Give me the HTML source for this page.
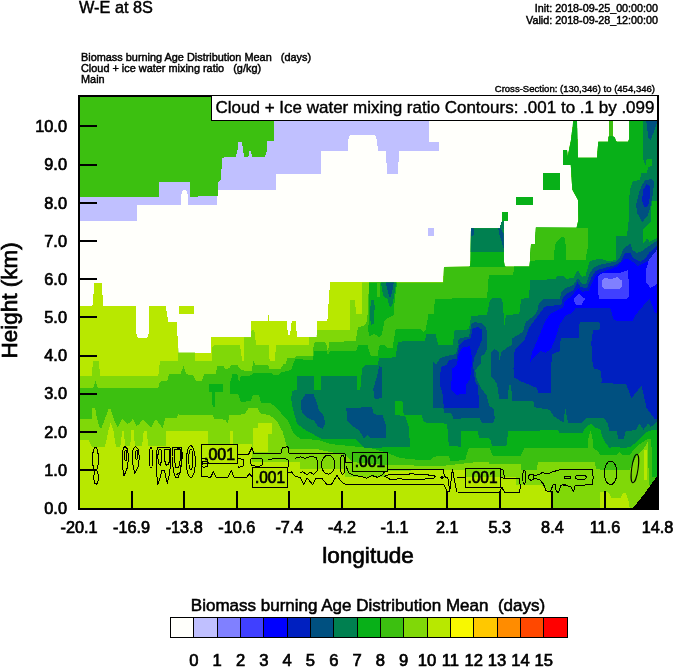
<!DOCTYPE html>
<html lang="en">
<head>
<meta charset="utf-8">
<title>W-E at 8S</title>
<style>
html,body{margin:0;padding:0;background:#fff;}
body{width:674px;height:667px;overflow:hidden;position:relative;font-family:"Liberation Sans",sans-serif;color:#000;}
svg{position:absolute;left:0;top:0;display:block;}
text{font-family:"Liberation Sans",sans-serif;fill:#000;}
.fill path,.fill rect{shape-rendering:crispEdges;}
.t16{font-size:16.6px;stroke:#000;stroke-width:0.7px;}
.t10{font-size:10.75px;stroke:#000;stroke-width:0.45px;}
</style>
</head>
<body>
<svg width="674" height="667" viewBox="0 0 674 667">
<rect x="0" y="0" width="674" height="667" fill="#fff"/>
<defs><clipPath id="plot"><rect x="79" y="96" width="579" height="413"/></clipPath></defs>
<g class="fill" clip-path="url(#plot)">

<clipPath id="env"><path d="M79.0 306.1 L92.4 306.1 L94.5 283.2 L101.5 283.2 L103.5 306.1 L136.0 306.1 L136.0 333.0 L138.0 337.7 L147.0 337.7 L149.2 333.0 L149.2 306.1 L165.8 306.1 L168.3 322.0 L176.7 322.0 L178.5 352.5 L211.0 352.5 L211.0 337.2 L251.0 337.2 L251.0 321.0 L267.5 321.0 L268.3 314.0 L269.5 321.0 L286.6 321.0 L288.0 335.0 L290.0 335.0 L291.7 321.0 L295.6 321.0 L297.0 337.0 L316.7 337.0 L316.7 321.0 L327.4 321.0 L330.0 282.4 L443.2 282.4 L444.0 267.0 L470.0 266.6 L470.5 262.0 L471.0 228.2 L503.6 228.2 L504.0 262.0 L504.8 266.6 L529.4 266.6 L530.0 261.0 L531.0 244.4 L535.0 244.4 L535.9 227.6 L576.6 227.8 L578.4 220.0 L578.0 200.0 L572.3 189.6 L570.8 165.0 L563.0 165.0 L563.0 150.0 L567.0 150.0 L567.7 156.5 L570.8 141.0 L573.3 120.3 L577.0 120.3 L578.0 157.7 L597.0 157.7 L598.3 141.7 L608.2 141.7 L608.5 137.0 L609.1 136.0 L609.1 120.3 L612.5 120.3 L612.5 136.0 L614.8 137.5 L616.0 141.0 L617.0 141.7 L628.0 141.7 L629.2 139.0 L629.2 120.3 L658.0 120.3 L658.0 509.0 L79.0 509.0Z"/></clipPath>
<g id="bg0">
<path d="M79.0 96.0 L658.0 96.0 L658.0 509.0 L79.0 509.0Z" fill="#fffffb"/>
</g>
<g id="lav">
<path d="M79.0 97.0 L429.2 97.0 L429.2 141.7 L438.9 141.7 L438.9 150.8 L399.0 150.8 L398.0 173.8 L387.0 173.8 L386.0 150.8 L378.0 150.8 L377.0 140.0 L375.0 134.8 L350.0 134.8 L348.0 140.0 L347.6 150.8 L321.5 150.8 L321.0 173.8 L276.5 173.8 L276.0 189.6 L217.0 189.6 L216.8 205.0 L188.0 205.0 L188.0 195.0 L186.0 189.6 L183.0 189.6 L181.0 195.0 L181.0 205.0 L137.0 205.0 L137.0 220.7 L79.0 220.7Z" fill="#c0c0ff"/>
<path d="M428.0 227.8 L434.3 227.8 L434.3 236.0 L428.0 236.0Z" fill="#c0c0ff"/>
</g>
<g id="g9top">
<path d="M79.0 97.0 L273.9 97.0 L273.9 141.0 L267.5 141.0 L267.0 150.0 L265.0 156.5 L252.0 156.5 L251.0 151.0 L249.5 151.0 L248.5 156.5 L244.0 156.5 L243.0 150.0 L242.0 141.7 L238.5 141.7 L237.5 150.0 L235.7 156.5 L222.4 157.7 L221.0 175.0 L220.4 180.7 L218.0 182.0 L217.8 196.0 L190.0 196.7 L190.0 182.0 L158.9 182.0 L158.9 196.7 L79.0 196.7Z" fill="#3cc010"/>
</g>
<g id="le11">
<path d="M79.0 306.1 L92.4 306.1 L94.5 283.2 L101.5 283.2 L103.5 306.1 L136.0 306.1 L136.0 333.0 L138.0 337.7 L147.0 337.7 L149.2 333.0 L149.2 306.1 L165.8 306.1 L168.3 322.0 L176.7 322.0 L178.5 352.5 L211.0 352.5 L211.0 337.2 L251.0 337.2 L251.0 321.0 L267.5 321.0 L268.3 314.0 L269.5 321.0 L286.6 321.0 L288.0 335.0 L290.0 335.0 L291.7 321.0 L295.6 321.0 L297.0 337.0 L316.7 337.0 L316.7 321.0 L327.4 321.0 L330.0 282.4 L443.2 282.4 L444.0 267.0 L470.0 266.6 L470.5 262.0 L471.0 228.2 L503.6 228.2 L504.0 262.0 L504.8 266.6 L529.4 266.6 L530.0 261.0 L531.0 244.4 L535.0 244.4 L535.9 227.6 L576.6 227.8 L578.4 220.0 L578.0 200.0 L572.3 189.6 L570.8 165.0 L563.0 165.0 L563.0 150.0 L567.0 150.0 L567.7 156.5 L570.8 141.0 L573.3 120.3 L577.0 120.3 L578.0 157.7 L597.0 157.7 L598.3 141.7 L608.2 141.7 L608.5 137.0 L609.1 136.0 L609.1 120.3 L612.5 120.3 L612.5 136.0 L614.8 137.5 L616.0 141.0 L617.0 141.7 L628.0 141.7 L629.2 139.0 L629.2 120.3 L658.0 120.3 L658.0 509.0 L79.0 509.0Z" fill="#b8e800"/>
<path d="M179.0 306.1 L193.8 306.1 L193.8 313.8 L179.0 313.8Z" fill="#b8e800"/>
</g>
<g id="sq8">
<path d="M542.7 173.0 L560.0 173.0 L560.0 190.0 L542.7 190.0Z" fill="#08b018"/>
<path d="M516.0 197.2 L532.8 197.2 L532.8 204.9 L516.0 204.9Z" fill="#08b018"/>
</g>
<g clip-path="url(#env)">
<g id="le10">
<path d="M77.2 376.3 L91.6 376.3 L93.0 361.3 L98.8 361.3 L100.2 376.3 L158.2 376.3 L160.0 361.3 L177.9 361.3 L178.0 348.0 L194.9 348.0 L194.9 361.0 L212.0 361.0 L212.0 348.4 L213.8 345.1 L239.9 345.1 L242.2 361.0 L244.0 361.0 L244.0 335.0 L250.9 335.0 L251.6 330.4 L254.3 330.4 L256.1 345.1 L268.7 345.1 L269.6 361.0 L275.0 361.0 L275.9 345.1 L305.0 345.1 L309.0 345.2 L309.0 335.0 L317.1 335.0 L317.1 330.3 L349.5 330.3 L350.4 299.7 L354.9 299.7 L356.1 314.1 L362.1 314.1 L362.1 277.2 L700.0 60.0 L700.0 520.0 L553.5 520.0 L553.0 500.0 L550.0 492.0 L543.5 487.0 L541.0 484.6 L516.4 484.6 L516.4 477.0 L465.0 477.0 L465.0 469.5 L384.5 471.0 L384.5 477.0 L345.0 477.0 L345.0 469.0 L300.0 469.0 L300.0 462.0 L252.0 462.0 L252.0 444.0 L208.0 444.0 L208.0 431.4 L180.0 431.4 L166.3 431.2 L166.3 445.6 L148.3 446.5 L147.4 438.4 L146.5 431.2 L143.8 431.2 L142.9 438.4 L142.0 445.6 L134.8 445.6 L133.9 430.3 L131.2 430.3 L130.3 445.6 L124.9 445.6 L124.0 431.2 L122.2 431.2 L120.4 446.5 L115.9 446.5 L113.2 429.4 L110.5 423.1 L108.7 429.4 L106.0 442.0 L105.1 446.5 L91.6 446.5 L88.9 440.2 L77.2 440.2Z" fill="#80d808"/>
</g>
<g id="le11b">
<path d="M257.5 422.7 L271.7 422.7 L271.7 434.0 L268.0 434.0 L268.0 452.0 L253.0 452.0 L253.0 428.0 L257.5 428.0Z" fill="#b8e800"/>
<path d="M229.5 431.4 L233.1 431.4 L233.1 444.0 L229.5 444.0Z" fill="#b8e800"/>
<path d="M600.0 510.0 L600.0 492.0 L605.2 491.7 L609.0 492.7 L611.2 498.0 L621.0 498.0 L622.5 493.5 L625.8 493.2 L628.5 501.0 L630.0 510.0Z" fill="#b8e800"/>
<path d="M644.2 450.0 L646.8 450.0 L647.2 480.0 L644.2 480.0Z" fill="#b8e800"/>
</g>
<g id="le9">
<path d="M77.2 387.9 L93.4 387.9 L95.5 381.1 L97.9 387.9 L158.2 387.9 L160.0 381.6 L167.2 380.7 L169.0 374.5 L180.6 373.6 L183.7 366.0 L186.0 373.6 L190.0 375.4 L186.8 375.4 L193.1 375.4 L195.8 380.7 L202.1 380.7 L203.9 374.5 L215.6 373.6 L217.4 366.4 L223.7 366.4 L225.5 369.1 L229.1 368.2 L231.8 364.9 L237.2 364.9 L239.9 369.1 L245.3 370.9 L251.6 370.9 L253.4 361.0 L255.2 364.6 L267.8 364.6 L269.6 369.1 L280.4 369.1 L283.1 364.6 L285.7 363.7 L287.5 358.3 L294.7 358.3 L296.5 355.9 L305.0 355.9 L300.0 356.0 L312.6 356.0 L314.0 342.9 L316.2 342.0 L325.2 342.0 L327.0 345.6 L327.9 354.2 L329.1 342.0 L355.8 341.1 L357.9 327.2 L364.8 325.4 L366.9 321.3 L368.4 306.0 L368.7 277.2 L700.0 40.0 L660.0 484.5 L648.7 484.5 L648.3 450.0 L648.0 441.0 L643.5 449.2 L637.5 454.5 L632.2 465.0 L630.0 469.5 L600.0 469.5 L595.9 469.3 L595.0 462.1 L550.0 462.1 L538.0 462.4 L536.7 469.8 L520.5 469.8 L520.5 464.4 L489.4 464.4 L489.4 461.7 L480.0 461.7 L445.0 465.6 L420.0 465.6 L384.0 465.0 L352.0 462.0 L345.0 455.0 L318.0 449.4 L300.0 449.4 L287.9 449.4 L286.1 444.0 L282.5 431.4 L277.2 421.5 L270.0 415.2 L260.1 413.4 L257.4 408.0 L248.4 408.0 L244.8 414.3 L229.5 415.2 L227.7 423.3 L225.0 419.7 L214.2 418.8 L212.4 415.2 L180.0 415.2 L177.9 414.1 L177.0 417.7 L165.4 417.7 L162.7 428.5 L158.2 422.2 L155.5 419.5 L151.0 427.6 L145.6 422.2 L142.9 419.5 L139.3 424.0 L136.6 425.8 L134.8 422.2 L133.0 418.6 L130.3 422.2 L127.6 424.0 L124.9 421.3 L122.2 418.6 L119.5 424.0 L117.7 427.6 L115.0 422.2 L110.5 408.7 L108.7 408.7 L105.1 418.6 L101.5 427.6 L99.7 427.6 L97.0 418.6 L95.2 407.8 L92.5 407.8 L91.6 418.6 L77.2 418.6Z" fill="#3cc010"/>
</g>
<g id="le8">
<path d="M230.0 394.0 L230.0 382.6 L232.7 373.6 L237.2 373.6 L239.0 382.6 L240.8 376.3 L251.6 375.4 L253.4 372.7 L271.4 372.7 L273.2 375.4 L278.6 375.4 L280.4 372.7 L291.1 370.0 L292.9 364.6 L295.6 359.2 L305.0 359.2 L300.0 360.0 L312.6 360.0 L314.4 351.3 L327.0 351.3 L327.9 355.5 L329.7 351.3 L355.8 351.3 L358.5 345.2 L367.5 345.2 L370.2 354.6 L372.0 356.4 L377.4 356.4 L379.2 345.6 L384.6 345.2 L387.3 347.7 L392.7 347.7 L395.4 330.3 L397.2 329.0 L420.0 329.0 L421.3 329.4 L423.1 332.1 L425.8 329.4 L428.5 314.1 L433.9 314.1 L434.8 298.8 L487.0 297.9 L488.8 275.4 L513.1 274.5 L514.0 270.0 L514.0 90.0 L700.0 90.0 L660.0 477.0 L651.7 477.0 L651.7 450.0 L651.0 439.5 L648.0 438.7 L642.0 442.5 L636.0 447.0 L630.0 454.5 L622.5 455.2 L619.5 452.2 L616.5 455.2 L600.0 454.5 L598.6 452.2 L593.2 447.7 L592.3 436.0 L590.5 430.6 L588.7 436.0 L587.8 447.7 L550.0 447.7 L524.5 447.5 L520.5 455.6 L492.8 455.6 L489.4 447.5 L468.6 448.5 L465.0 460.2 L450.6 461.0 L448.8 455.7 L434.4 456.6 L430.8 460.2 L420.0 460.0 L400.0 458.0 L385.0 452.0 L370.0 448.0 L350.0 446.0 L330.0 444.0 L318.0 440.0 L300.0 438.6 L294.0 434.0 L288.0 421.0 L281.0 413.0 L277.0 408.0 L270.0 402.6 L261.0 402.6 L259.0 395.0 L253.0 395.0 L251.0 401.0 L241.0 402.0 L238.0 394.0Z" fill="#08b018"/>
<path d="M368.9 277.2 L368.9 306.0 L368.4 331.2 L369.3 336.6 L374.7 333.9 L379.2 337.5 L381.9 334.8 L384.6 320.4 L388.2 317.7 L393.6 315.0 L395.0 297.0 L398.1 277.2Z" fill="#08b018"/>
<path d="M209.0 384.4 L222.8 384.4 L222.8 391.6 L215.0 391.6 L215.0 407.2 L212.6 407.2 L212.0 391.6 L209.0 391.6Z" fill="#08b018"/>
<path d="M469.0 220.0 L506.0 220.0 L506.0 267.0 L469.0 267.0Z" fill="#08b018"/>
</g>
<g id="le9p">
<path d="M535.9 227.6 L588.1 227.6 L588.1 245.5 L585.6 259.5 L566.4 259.5 L565.2 237.8 L561.3 236.6 L555.0 244.2 L553.7 259.5 L529.5 260.8 L530.8 244.2 L534.6 242.9Z" fill="#3cc010"/>
<path d="M609.1 118.0 L612.5 118.0 L612.5 136.2 L609.1 136.2Z" fill="#3cc010"/>
<path d="M376.5 277.2 L380.1 277.2 L379.5 297.0 L377.4 297.0Z" fill="#3cc010"/>
</g>
<g id="le7">
<path d="M291.1 400.0 L292.0 391.5 L296.5 389.7 L296.5 376.3 L305.0 376.3 L300.0 376.1 L313.5 376.1 L314.4 390.0 L320.7 390.0 L320.7 376.1 L356.7 376.1 L357.2 390.0 L360.3 390.0 L362.1 368.1 L364.8 365.4 L377.4 365.4 L379.2 358.2 L395.4 357.3 L398.1 341.6 L420.0 341.1 L424.9 341.1 L426.2 333.9 L435.7 333.9 L437.5 342.0 L438.4 344.7 L452.8 344.7 L454.6 330.3 L469.0 329.4 L471.1 315.9 L487.0 315.0 L489.7 300.6 L492.4 298.4 L501.4 298.4 L503.2 304.2 L504.1 327.6 L505.9 315.0 L519.3 314.1 L521.1 298.8 L529.2 297.9 L530.1 280.8 L535.0 279.9 L529.2 297.0 L530.0 280.5 L555.5 279.0 L557.0 276.0 L563.0 276.0 L566.0 279.0 L573.5 277.5 L576.5 271.5 L578.0 270.0 L581.7 276.7 L585.5 276.0 L588.5 265.5 L590.0 261.0 L600.0 258.7 L609.0 261.5 L615.7 260.0 L616.5 236.0 L627.0 236.0 L628.5 222.5 L629.2 197.0 L630.4 188.4 L632.8 181.2 L640.0 180.0 L641.2 173.4 L646.6 172.8 L648.4 166.8 L645.4 165.6 L643.0 158.4 L643.0 116.4 L700.0 100.0 L660.0 429.0 L651.0 430.5 L646.5 432.0 L642.0 436.5 L636.0 442.5 L630.0 447.0 L622.0 448.6 L618.4 446.8 L609.4 447.7 L605.8 443.2 L602.2 436.0 L600.4 429.7 L594.1 427.0 L591.4 423.4 L588.7 425.2 L584.2 428.8 L582.4 433.3 L559.9 433.3 L558.1 429.7 L550.0 429.7 L540.0 430.5 L526.1 430.5 L508.2 431.4 L506.4 445.8 L492.0 445.8 L490.2 438.6 L479.4 437.7 L477.6 431.4 L461.4 431.4 L460.5 446.7 L448.8 445.8 L447.0 422.4 L447.0 423.7 L424.1 422.4 L421.6 414.8 L403.7 414.8 L402.4 400.8 L394.8 400.8 L394.8 414.8 L405.0 416.1 L408.8 426.3 L410.1 446.7 L365.0 448.0 L355.0 439.0 L322.0 439.0 L307.0 431.0 L297.0 424.0 L292.0 405.0 L290.5 393.0 L291.0 380.0Z" fill="#008050"/>
<path d="M371.1 299.7 L373.8 299.7 L374.7 306.0 L373.8 324.0 L371.1 324.9 L369.8 316.8 L370.5 306.0Z" fill="#008050"/>
<path d="M380.6 277.2 L397.2 277.2 L394.5 293.4 L392.7 304.2 L390.0 307.8 L387.3 298.8 L383.7 297.0 L381.9 289.8Z" fill="#008050"/>
<path d="M470.0 220.0 L505.0 220.0 L505.0 251.6 L470.0 251.6Z" fill="#008050"/>
</g>
<g id="le8p">
<path d="M651.7 200.7 L659.2 200.7 L659.2 236.7 L649.5 242.0 L647.2 238.2 L643.5 243.5 L642.7 230.0 L645.0 227.0 L651.0 221.7Z" fill="#08b018"/>
<path d="M645.4 165.6 L646.6 159.6 L652.0 159.0 L652.0 166.2 L648.4 166.8Z" fill="#08b018"/>
</g>
</g>
<g id="stem7">
<path d="M500.0 228.8 L500.6 224.0 L502.4 221.0 L504.4 221.0 L503.6 224.0 L503.6 228.8Z" fill="#008050"/>
</g>
<g id="blob8">
<path d="M502.1 212.0 L507.8 212.0 L507.8 221.0 L502.1 221.0Z" fill="#08b018"/>
</g>
<g clip-path="url(#env)">
<g id="le6">
<path d="M432.5 407.5 L432.5 361.0 L436.2 364.7 L440.0 358.0 L447.5 355.7 L455.7 354.2 L458.7 344.5 L457.3 342.0 L460.0 338.4 L469.0 336.6 L471.7 323.1 L475.3 322.2 L481.6 323.1 L485.2 326.7 L487.0 331.2 L487.0 338.4 L487.2 349.0 L484.2 354.2 L481.2 356.5 L480.5 364.0 L475.2 370.0 L476.7 379.0 L482.0 389.5 L486.5 395.5 L489.5 406.0 L494.0 409.0 L494.7 418.0 L493.2 422.5 L482.0 422.5 L479.7 418.0 L453.5 418.7 L451.2 413.5 L444.5 412.7 L443.0 407.5Z" fill="#005080"/>
<path d="M491.0 376.0 L491.0 352.0 L494.7 349.0 L498.5 352.0 L499.2 361.0 L501.5 352.0 L507.5 347.5 L512.0 345.2 L512.2 338.4 L522.9 332.1 L525.6 322.2 L535.0 315.0 L537.5 310.0 L539.0 303.0 L543.5 298.5 L560.0 298.5 L561.5 291.7 L566.0 288.0 L573.5 285.0 L578.0 278.2 L581.7 283.5 L586.2 284.2 L590.0 273.0 L593.7 267.7 L600.0 264.7 L609.0 263.0 L615.7 261.5 L619.5 258.5 L624.0 248.0 L630.7 243.5 L632.2 249.5 L636.7 253.2 L642.0 251.0 L648.0 246.5 L657.0 240.5 L700.0 235.0 L700.0 421.0 L657.4 421.6 L650.7 427.0 L648.1 423.4 L643.6 429.7 L639.1 423.4 L636.4 429.7 L625.6 431.5 L623.8 438.7 L618.4 438.7 L616.6 430.6 L609.4 430.6 L607.6 423.4 L604.0 418.0 L586.0 418.0 L582.4 422.5 L568.0 422.5 L565.3 408.1 L563.5 422.5 L553.6 416.2 L550.0 409.9 L534.6 407.2 L533.3 400.8 L511.6 400.8 L512.0 399.2 L511.2 385.0 L509.0 385.0 L507.5 399.2 L499.2 398.5 L497.0 383.5Z" fill="#005080"/>
<path d="M300.9 400.8 L305.4 394.5 L313.5 394.0 L316.2 400.8 L318.9 409.8 L323.4 415.2 L325.2 423.3 L322.5 428.7 L318.0 426.9 L314.4 420.6 L307.2 417.9 L302.7 413.4 L300.9 408.0Z" fill="#005080"/>
<path d="M346.4 408.0 L372.0 407.1 L373.8 414.3 L382.8 415.2 L385.5 424.2 L385.5 437.7 L370.2 438.2 L367.5 435.0 L363.9 438.6 L359.4 430.5 L352.2 426.0 L346.8 419.7Z" fill="#005080"/>
<path d="M372.9 390.0 L376.5 377.9 L379.2 366.3 L381.9 367.2 L381.9 398.1 L374.7 399.0 L373.4 390.0Z" fill="#005080"/>
<path d="M384.6 277.2 L394.5 277.2 L392.7 289.8 L390.0 298.8 L388.2 293.4Z" fill="#005080"/>
<path d="M471.0 227.6 L474.0 227.6 L474.0 234.8 L472.4 236.6 L471.0 236.0Z" fill="#005080"/>
<path d="M498.2 227.6 L500.3 227.6 L503.6 233.6 L503.6 248.0 L502.4 244.4 L501.2 239.6 L499.4 234.8Z" fill="#005080"/>
<path d="M646.0 118.8 L658.0 118.8 L656.8 123.6 L653.8 132.0 L650.8 139.8 L648.4 138.0 L647.4 129.6Z" fill="#005080"/>
<path d="M645.0 180.5 L651.0 179.0 L654.0 181.2 L653.2 192.5 L650.2 207.5 L648.0 215.0 L642.0 222.5 L637.5 213.5 L636.0 204.5 L639.0 192.5 L642.0 185.0Z" fill="#005080"/>
</g>
<g id="le5">
<path d="M440.0 385.0 L440.7 367.0 L446.7 364.7 L449.0 360.2 L456.5 358.7 L458.7 349.0 L459.1 345.6 L464.5 340.2 L470.8 338.4 L472.6 328.5 L478.0 326.7 L481.6 329.4 L482.5 338.4 L477.5 350.5 L474.5 356.5 L473.0 365.5 L475.2 382.0 L477.5 385.0 L479.0 400.0 L479.0 407.5 L443.7 407.5 L443.0 395.5Z" fill="#0020c0"/>
<path d="M514.2 379.0 L513.5 355.0 L514.2 352.5 L515.5 348.7 L524.4 339.8 L529.5 327.0 L537.1 316.9 L544.8 306.7 L549.5 306.0 L561.5 304.5 L563.0 297.0 L567.5 293.2 L573.5 290.2 L577.2 282.0 L581.0 287.2 L587.0 288.0 L591.5 277.5 L595.2 271.5 L600.0 269.2 L615.0 265.2 L621.0 261.5 L624.7 253.2 L630.0 252.5 L633.7 258.5 L640.5 261.5 L645.0 258.5 L649.5 252.5 L657.0 245.7 L700.0 243.0 L700.0 410.0 L656.9 418.6 L654.4 418.6 L646.7 408.4 L641.6 385.5 L631.4 398.2 L626.3 384.2 L600.9 382.9 L602.1 381.5 L600.3 369.9 L594.0 369.0 L592.2 360.0 L591.3 342.0 L593.1 330.3 L600.3 329.4 L599.4 322.2 L579.6 322.2 L578.7 337.5 L560.7 338.4 L559.8 351.0 L551.7 354.6 L550.8 390.0 L551.2 393.1 L538.4 393.1 L537.1 388.0 L521.8 381.7 L514.2 377.8 L512.9 360.0Z" fill="#0020c0"/>
<path d="M646.5 184.2 L650.2 186.5 L650.2 195.5 L648.0 206.0 L644.2 207.5 L642.0 200.0 L643.5 189.5Z" fill="#0020c0"/>
</g>
<g id="le4">
<path d="M451.2 389.5 L452.0 368.5 L456.5 365.5 L458.7 355.0 L462.5 347.5 L470.0 346.0 L471.5 355.0 L471.5 367.0 L470.0 379.0 L466.2 385.0 L465.5 394.0 L456.5 394.7Z" fill="#0000ff"/>
<path d="M529.5 362.7 L532.0 352.5 L539.7 334.7 L544.8 321.9 L549.9 314.3 L562.6 307.9 L563.0 307.5 L564.5 301.5 L572.0 295.5 L575.0 291.7 L578.0 288.0 L581.7 291.7 L588.5 291.0 L593.0 280.5 L596.0 275.2 L600.0 273.0 L618.0 266.0 L624.7 258.5 L630.7 260.0 L637.5 266.0 L649.5 260.0 L657.0 251.0 L700.0 250.0 L700.0 300.0 L656.9 313.2 L655.1 313.2 L649.7 298.8 L646.1 302.4 L635.4 315.0 L632.7 321.3 L613.8 320.4 L610.2 307.8 L576.0 307.8 L571.5 313.2 L567.0 315.0 L566.1 315.0 L559.8 324.0 L556.2 336.6 L550.8 349.2 L545.4 352.8 L540.0 351.0Z" fill="#0000ff"/>
</g>
<g id="le3">
<path d="M597.6 277.2 L601.2 273.6 L612.0 272.7 L621.0 272.7 L628.2 270.0 L629.1 297.0 L626.4 298.8 L599.4 298.8 L597.6 291.6Z" fill="#4040ff"/>
<path d="M573.3 298.8 L578.7 293.4 L585.0 298.8 L581.4 305.1 L576.0 305.1Z" fill="#4040ff"/>
<path d="M648.7 260.0 L658.5 248.0 L662.3 270.0 L662.3 280.8 L650.6 288.0 L646.1 282.6 L646.1 270.0Z" fill="#4040ff"/>
</g>
<g id="le2">
<path d="M602.1 280.8 L604.8 278.1 L611.1 279.0 L617.4 277.2 L621.9 280.8 L621.9 287.1 L619.2 288.9 L604.8 288.9 L602.1 286.2Z" fill="#8080ff"/>
</g>
</g>
</g>

<g fill="none" stroke="#000" stroke-width="1" stroke-linejoin="round" shape-rendering="crispEdges">
<ellipse cx="95.5" cy="459.1" rx="2.9" ry="11.7"/>
<ellipse cx="96.1" cy="477.4" rx="2.2" ry="6.8"/>
<path d="M125.2 446.5 L127.6 449.2 L128.5 458.2 L127.2 468.1 L124.0 476.1 L122.5 467.2 L122.2 454.6 L123.3 448.3Z"/>
<ellipse cx="125.6" cy="455.5" rx="1.3" ry="5.4"/>
<path d="M135.7 446.5 L138.4 449.2 L139.3 458.2 L138.0 467.2 L134.8 473.4 L133.0 465.4 L132.4 454.6 L133.3 448.3Z"/>
<ellipse cx="136.6" cy="454.6" rx="1.1" ry="4.5"/>
<ellipse cx="151.0" cy="457.8" rx="1.6" ry="10.3"/>
<path d="M157.3 447.4 L169.9 447.0 L170.7 456.4 L169.9 470.7 L168.6 477.9 L167.2 483.3 L164.5 470.7 L161.8 470.7 L160.0 477.9 L157.8 484.2 L156.4 470.7 L156.4 454.6Z"/>
<path d="M158.5 450.1 L160.9 449.2 L161.8 458.2 L160.5 465.4 L158.5 463.6 L157.8 456.4Z"/>
<path d="M164.5 449.2 L169.0 449.2 L169.9 458.2 L168.6 464.5 L166.3 465.4 L164.5 460.0Z"/>
<path d="M172.5 447.0 L181.5 447.0 L182.4 456.4 L180.6 470.7 L177.9 477.9 L175.2 477.0 L173.4 470.7 L172.0 456.4Z"/>
<path d="M174.3 449.2 L180.1 449.2 L180.6 458.2 L178.8 467.2 L176.1 468.1 L174.3 460.0Z"/>
<ellipse cx="190.8" cy="461.6" rx="4.5" ry="15.8"/>
<ellipse cx="190.8" cy="459.3" rx="2.0" ry="10.4"/>
<path d="M176.4 447.6 L180.9 449.4 L181.4 462.0 L180.0 472.8 L176.4 474.6"/>
<path d="M201.6 463.8 L201.6 476.4 L210.6 477.3 L213.3 471.9 L216.0 477.3 L227.7 477.3 L231.3 470.1 L234.0 477.3 L246.6 477.3 L249.3 473.7 L252.5 477.3"/>
<path d="M237.6 454.8 L248.4 454.8 L251.1 449.4 L252.0 447.6 L253.8 453.9 L280.7 453.9 L282.5 447.6 L287.9 446.7 L288.8 453.0 L300.0 453.0"/>
<path d="M237.6 458.4 L243.0 459.3 L243.9 465.6 L239.4 467.4 L237.6 466.5"/>
<path d="M251.1 458.4 L261.9 458.0 L262.8 464.7 L259.2 466.5 L252.0 465.6 L250.2 462.0Z"/>
<path d="M268.2 459.3 L280.7 458.4 L287.9 459.3 L288.8 465.6 L287.6 467.7"/>
<path d="M287.6 472.8 L291.5 471.9 L295.1 476.4 L300.0 477.3"/>
<path d="M201.6 459.3 L203.0 458.4 L207.0 459.3 L208.8 463.8"/>
<path d="M202.5 461.1 L207.0 461.1 L207.9 466.5 L203.4 467.4 L201.9 465.6Z"/>
<path d="M295.1 458.4 L300.0 456.9"/>
<path d="M300.0 456.6 L305.4 458.4 L310.8 456.2 L316.2 457.5 L318.0 463.8 L317.1 471.0 L313.5 474.6 L309.9 471.9 L307.2 474.6 L302.7 471.9 L300.0 472.8"/>
<ellipse cx="328.2" cy="464.7" rx="6.7" ry="9.4"/>
<ellipse cx="342.6" cy="464.7" rx="2.3" ry="9.4"/>
<path d="M300.0 453.9 L345.0 453.9 L345.0 462.0 L352.2 462.0"/>
<path d="M300.0 477.3 L303.6 484.5 L307.2 478.2 L312.6 484.5 L316.2 478.2 L321.6 478.2 L327.0 484.5 L331.5 484.5 L336.9 475.5 L341.4 481.8 L345.9 484.8 L443.9 484.8"/>
<path d="M345.9 465.6 L348.6 472.8 L354.0 475.5 L361.2 476.4 L366.6 478.2 L372.0 475.5 L377.4 477.3 L382.8 474.6 L384.6 471.3"/>
<path d="M387.6 469.2 L443.9 469.2"/>
<path d="M384.6 476.4 L390.0 474.2 L400.7 474.9 L411.5 473.8 L422.3 474.6 L433.1 475.3 L435.8 476.7 L433.1 478.5 L422.3 479.2 L411.5 479.6 L400.7 478.9 L390.0 479.2Z"/>
<path d="M443.4 469.2 L444.3 476.4 L447.9 478.2 L449.7 491.6 L452.4 469.2 L455.1 483.6 L456.9 492.0 L499.2 492.5 L501.9 487.2 L504.6 492.5 L519.0 492.5 L520.7 487.2 L519.0 478.2 L504.6 478.2 L502.8 469.2 L500.1 469.2"/>
<path d="M444.3 484.8 L447.0 491.6 L449.7 491.6"/>
<path d="M440.7 477.6 L441.9 476.4 L443.4 477.6 L441.9 478.9Z"/>
<path d="M456.9 477.6 L465.0 477.6"/>
<path d="M500.1 477.6 L504.6 478.2"/>
<ellipse cx="524.3" cy="477.2" rx="1.5" ry="7.0"/>
<ellipse cx="531.3" cy="477.2" rx="2.7" ry="3.0"/>
<path d="M534.0 475.9 L539.4 474.5 L542.1 472.5 L547.5 473.9 L552.9 471.8 L559.6 469.8 L566.4 469.4"/>
<path d="M534.0 478.6 L539.4 479.3 L543.4 484.0 L546.1 490.7 L550.2 492.1 L552.9 485.3 L554.9 484.0 L556.2 490.7 L558.3 492.7 L561.0 485.3 L566.4 484.0"/>
<path d="M560.8 469.3 L592.3 469.3 L593.2 477.4 L592.3 484.6 L575.2 485.5 L573.4 491.8 L570.7 486.4 L563.5 485.5"/>
<ellipse cx="567.5" cy="477.4" rx="3.2" ry="1.4"/>
<ellipse cx="580.9" cy="477.4" rx="5.4" ry="2.3"/>
<ellipse cx="610.6" cy="472.9" rx="6.3" ry="11.7"/>
<ellipse cx="634.9" cy="468.4" rx="3.2" ry="14.4" transform="rotate(8 634.9 468.4)"/>
</g>
<rect x="201.6" y="444.5" width="36.0" height="19.3" fill="none" stroke="#000" stroke-width="1" shape-rendering="crispEdges"/>
<text x="219.6" y="459.6" text-anchor="middle" style="font-size:16.5px;stroke:#000;stroke-width:0.7px" textLength="31.0" lengthAdjust="spacingAndGlyphs">.001</text>
<rect x="252.5" y="467.7" width="35.1" height="19.4" fill="none" stroke="#000" stroke-width="1" shape-rendering="crispEdges"/>
<text x="270.0" y="483.0" text-anchor="middle" style="font-size:16.5px;stroke:#000;stroke-width:0.7px" textLength="30.1" lengthAdjust="spacingAndGlyphs">.001</text>
<rect x="352.2" y="452.1" width="35.4" height="19.3" fill="none" stroke="#000" stroke-width="1" shape-rendering="crispEdges"/>
<text x="369.9" y="467.1" text-anchor="middle" style="font-size:16.5px;stroke:#000;stroke-width:0.7px" textLength="30.4" lengthAdjust="spacingAndGlyphs">.001</text>
<rect x="465.0" y="468.3" width="35.1" height="18.9" fill="none" stroke="#000" stroke-width="1" shape-rendering="crispEdges"/>
<text x="482.5" y="483.0" text-anchor="middle" style="font-size:16.5px;stroke:#000;stroke-width:0.7px" textLength="30.1" lengthAdjust="spacingAndGlyphs">.001</text>
<path d="M632.2 509 L643.5 495 L651 484.5 L657 476.2 L659 476 L659 509Z" fill="#000" shape-rendering="crispEdges"/>
<g stroke="#000" stroke-width="2" fill="none" shape-rendering="crispEdges">
<rect x="79" y="96" width="579" height="413"/>
</g>
<g fill="#000" shape-rendering="crispEdges">
<rect x="79" y="469" width="18" height="2"/>
<rect x="79" y="431" width="18" height="2"/>
<rect x="79" y="393" width="18" height="2"/>
<rect x="79" y="355" width="18" height="2"/>
<rect x="79" y="316" width="18" height="2"/>
<rect x="79" y="278" width="18" height="2"/>
<rect x="79" y="240" width="18" height="2"/>
<rect x="79" y="202" width="18" height="2"/>
<rect x="79" y="164" width="18" height="2"/>
<rect x="79" y="125" width="18" height="2"/>
<rect x="131" y="491" width="2" height="18"/>
<rect x="183" y="491" width="2" height="18"/>
<rect x="236" y="491" width="2" height="18"/>
<rect x="288" y="491" width="2" height="18"/>
<rect x="341" y="491" width="2" height="18"/>
<rect x="394" y="491" width="2" height="18"/>
<rect x="446" y="491" width="2" height="18"/>
<rect x="499" y="491" width="2" height="18"/>
<rect x="551" y="491" width="2" height="18"/>
<rect x="604" y="491" width="2" height="18"/>
</g>
<rect x="211.5" y="95.7" width="446.5" height="24.8" fill="#fff" stroke="#000" stroke-width="1.3" shape-rendering="crispEdges"/>
<text x="215.5" y="112.6" style="font-size:16.6px;stroke:#000;stroke-width:0.4px" textLength="439" lengthAdjust="spacingAndGlyphs">Cloud + Ice water mixing ratio Contours: .001 to .1 by .099</text>
<text transform="translate(67,513.9) scale(0.985,1)" text-anchor="end" class="t16">0.0</text>
<text transform="translate(67,475.7) scale(0.985,1)" text-anchor="end" class="t16">1.0</text>
<text transform="translate(67,437.6) scale(0.985,1)" text-anchor="end" class="t16">2.0</text>
<text transform="translate(67,399.4) scale(0.985,1)" text-anchor="end" class="t16">3.0</text>
<text transform="translate(67,361.2) scale(0.985,1)" text-anchor="end" class="t16">4.0</text>
<text transform="translate(67,323.1) scale(0.985,1)" text-anchor="end" class="t16">5.0</text>
<text transform="translate(67,284.9) scale(0.985,1)" text-anchor="end" class="t16">6.0</text>
<text transform="translate(67,246.7) scale(0.985,1)" text-anchor="end" class="t16">7.0</text>
<text transform="translate(67,208.5) scale(0.985,1)" text-anchor="end" class="t16">8.0</text>
<text transform="translate(67,170.4) scale(0.985,1)" text-anchor="end" class="t16">9.0</text>
<text transform="translate(67,132.2) scale(0.985,1)" text-anchor="end" class="t16">10.0</text>
<text transform="translate(79.0,533) scale(0.98,1)" text-anchor="middle" class="t16">-20.1</text>
<text transform="translate(131.6,533) scale(0.98,1)" text-anchor="middle" class="t16">-16.9</text>
<text transform="translate(184.2,533) scale(0.98,1)" text-anchor="middle" class="t16">-13.8</text>
<text transform="translate(236.8,533) scale(0.98,1)" text-anchor="middle" class="t16">-10.6</text>
<text transform="translate(289.4,533) scale(0.98,1)" text-anchor="middle" class="t16">-7.4</text>
<text transform="translate(342.0,533) scale(0.98,1)" text-anchor="middle" class="t16">-4.2</text>
<text transform="translate(394.6,533) scale(0.98,1)" text-anchor="middle" class="t16">-1.1</text>
<text transform="translate(447.2,533) scale(0.98,1)" text-anchor="middle" class="t16">2.1</text>
<text transform="translate(499.8,533) scale(0.98,1)" text-anchor="middle" class="t16">5.3</text>
<text transform="translate(552.4,533) scale(0.98,1)" text-anchor="middle" class="t16">8.4</text>
<text transform="translate(605.0,533) scale(0.98,1)" text-anchor="middle" class="t16">11.6</text>
<text transform="translate(657.6,533) scale(0.98,1)" text-anchor="middle" class="t16">14.8</text>
<text x="368" y="563.3" text-anchor="middle" style="font-size:22.6px;stroke:#000;stroke-width:0.7px">longitude</text>
<text transform="translate(17.3,358.5) rotate(-90)" style="font-size:22.5px;stroke:#000;stroke-width:0.7px">Height (km)</text>
<text x="79" y="13.2" style="font-size:16.3px;stroke:#000;stroke-width:0.45px">W-E at 8S</text>
<text x="81" y="61.3" class="t10" style="font-size:10.9px" xml:space="preserve">Biomass burning Age Distribution Mean   (days)</text>
<text x="81" y="72.4" class="t10" style="font-size:10.9px" xml:space="preserve">Cloud + ice water mixing ratio   (g/kg)</text>
<text x="81" y="83.4" class="t10" style="font-size:10.9px">Main</text>
<text x="658" y="12" text-anchor="end" class="t10">Init: 2018-09-25_00:00:00</text>
<text x="658" y="23.5" text-anchor="end" class="t10">Valid: 2018-09-28_12:00:00</text>
<text x="655" y="91.7" text-anchor="end" style="font-size:9.55px;stroke:#000;stroke-width:0.4px">Cross-Section: (130,346) to (454,346)</text>
<text x="368" y="610.5" text-anchor="middle" style="font-size:17px;stroke:#000;stroke-width:0.55px" xml:space="preserve">Biomass burning Age Distribution Mean  (days)</text>
<g shape-rendering="crispEdges" stroke="#000" stroke-width="1">
<rect x="170.50" y="617.5" width="23.32" height="20" fill="#fffffb"/>
<rect x="193.82" y="617.5" width="23.32" height="20" fill="#c0c0ff"/>
<rect x="217.15" y="617.5" width="23.32" height="20" fill="#8080ff"/>
<rect x="240.47" y="617.5" width="23.32" height="20" fill="#4040ff"/>
<rect x="263.79" y="617.5" width="23.32" height="20" fill="#0000ff"/>
<rect x="287.12" y="617.5" width="23.32" height="20" fill="#0020c0"/>
<rect x="310.44" y="617.5" width="23.32" height="20" fill="#005080"/>
<rect x="333.76" y="617.5" width="23.32" height="20" fill="#008050"/>
<rect x="357.09" y="617.5" width="23.32" height="20" fill="#08b018"/>
<rect x="380.41" y="617.5" width="23.32" height="20" fill="#3cc010"/>
<rect x="403.74" y="617.5" width="23.32" height="20" fill="#80d808"/>
<rect x="427.06" y="617.5" width="23.32" height="20" fill="#b8e800"/>
<rect x="450.38" y="617.5" width="23.32" height="20" fill="#f8f800"/>
<rect x="473.71" y="617.5" width="23.32" height="20" fill="#ffc800"/>
<rect x="497.03" y="617.5" width="23.32" height="20" fill="#ff8c00"/>
<rect x="520.35" y="617.5" width="23.32" height="20" fill="#ff4800"/>
<rect x="543.68" y="617.5" width="23.32" height="20" fill="#ff0000"/>
</g>
<text x="193.8" y="665.5" text-anchor="middle" class="t16">0</text>
<text x="217.1" y="665.5" text-anchor="middle" class="t16">1</text>
<text x="240.5" y="665.5" text-anchor="middle" class="t16">2</text>
<text x="263.8" y="665.5" text-anchor="middle" class="t16">3</text>
<text x="287.1" y="665.5" text-anchor="middle" class="t16">4</text>
<text x="310.4" y="665.5" text-anchor="middle" class="t16">5</text>
<text x="333.8" y="665.5" text-anchor="middle" class="t16">6</text>
<text x="357.1" y="665.5" text-anchor="middle" class="t16">7</text>
<text x="380.4" y="665.5" text-anchor="middle" class="t16">8</text>
<text x="403.7" y="665.5" text-anchor="middle" class="t16">9</text>
<text x="427.1" y="665.5" text-anchor="middle" class="t16">10</text>
<text x="450.4" y="665.5" text-anchor="middle" class="t16">11</text>
<text x="473.7" y="665.5" text-anchor="middle" class="t16">12</text>
<text x="497.0" y="665.5" text-anchor="middle" class="t16">13</text>
<text x="520.4" y="665.5" text-anchor="middle" class="t16">14</text>
<text x="543.7" y="665.5" text-anchor="middle" class="t16">15</text>
</svg>
</body>
</html>
